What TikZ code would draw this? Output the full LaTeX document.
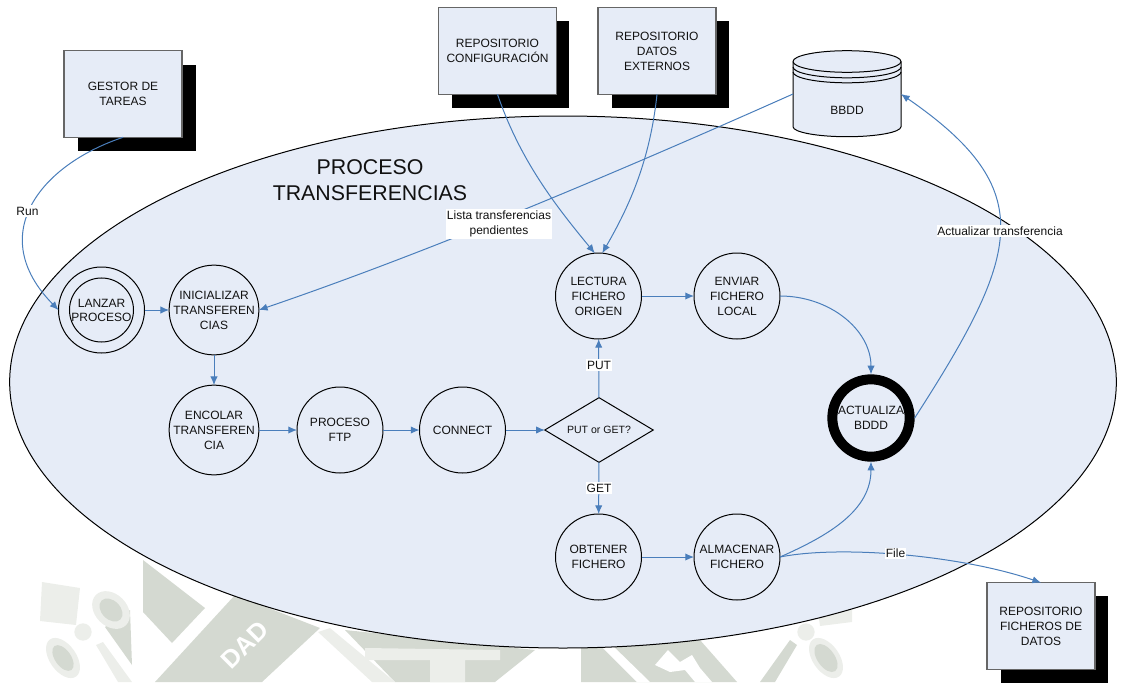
\documentclass[tikz,border=0pt]{standalone}
\usepackage{fontspec}
\setmainfont{Liberation Sans}
\usetikzlibrary{arrows.meta,shapes.geometric}
\definecolor{fillb}{HTML}{E6ECF7}
\definecolor{edgeb}{HTML}{4A7EBB}
\definecolor{boxgray}{HTML}{666666}
\definecolor{wmd}{HTML}{D4D9D1}
\definecolor{wml}{HTML}{ECEEEA}
\definecolor{txt}{HTML}{111111}
\tikzset{
  x=0.75pt,y=-0.75pt,
  base/.style={font=\fontsize{9}{11.25}\selectfont,align=center,text=txt,inner sep=0pt,outer sep=0pt},
  stateb/.style={base,circle,draw=black,line width=0.75pt,minimum size=64.5pt},
  boxb/.style={base,rectangle,draw=boxgray,fill=fillb,line width=0.9pt,minimum width=88.5pt,minimum height=65pt},
  shadowb/.style={fill=black,draw=none},
  flow/.style={draw=edgeb,line width=0.75pt,-{Latex[length=6.5pt,width=5.5pt]}},
  lab/.style={base,fill=white,inner xsep=0.5pt,inner ysep=1pt},
}
\begin{document}
\begin{tikzpicture}
\useasboundingbox (0,0) rectangle (1121,682);
% watermark
\fill[wml] (42,582) -- (80,588) -- (76,625) -- (40,621) -- cycle;
\fill[wmd] (143,560) -- (205,608) -- (172,643) -- (143,612) -- cycle;
\fill[wmd] (130,610) -- (132,665) -- (105,627) -- cycle;
\fill[wml] (83,632) circle [radius=6.5pt];
\fill[wml,rotate around={-45:(111,610)}] (111,610) ellipse [x radius=16pt,y radius=12pt];
\fill[wmd,rotate around={-45:(111,610)}] (111,610) ellipse [x radius=10pt,y radius=7pt];
\fill[wml,rotate around={-55:(63,658)}] (63,658) ellipse [x radius=17pt,y radius=10pt];
\fill[wmd,rotate around={-55:(63,658)}] (63,658) ellipse [x radius=11pt,y radius=6pt];
\fill[wml] (96,645) -- (103,642) -- (132,682) -- (118,682) -- cycle;
\fill[wmd] (155,682) -- (235,595) -- (320,628) -- (262,682) -- cycle;
\node[rotate=45,font=\bfseries\fontsize{19}{19}\selectfont,text=white] (wmt) at (245,645) {DAD};
\fill[wmd] (345,630) -- (535,650) -- (495,682) -- (395,682) -- cycle;
\fill[wml] (318,632) -- (330,628) -- (395,682) -- (372,682) -- cycle;
\fill[wml] (365,648) -- (500,650) -- (500,660) -- (465,660) -- (465,682) -- (430,682) -- (430,660) -- (365,660) -- cycle;
\fill[wmd] (581,645) -- (700,640) -- (737,682) -- (581,682) -- cycle;
\fill[white] (600,645) -- (612,645) -- (650,682) -- (637,682) -- cycle;
\fill[white] (655,665) -- (668,650) -- (680,662) -- (692,655) -- (700,668) -- (712,682) -- (695,682) -- (685,670) -- (670,672) -- cycle;
\fill[wmd] (760,682) -- (790,640) -- (797,645) -- (775,682) -- cycle;
\fill[wml] (818,612) -- (852,608) -- (852,622) -- (820,626) -- cycle;
\fill[wml] (806,632) circle [radius=6.5pt];
\fill[wml,rotate around={-55:(826,658)}] (826,658) ellipse [x radius=17pt,y radius=10pt];
\fill[wmd,rotate around={-55:(826,658)}] (826,658) ellipse [x radius=12pt,y radius=6.5pt];

% process ellipse
\node[ellipse,draw=black,fill=fillb,line width=0.75pt,minimum width=830pt,minimum height=399pt,inner sep=0pt,outer sep=0pt] (proc) at (563,382) {};
\node[base,font=\fontsize{16}{19}\selectfont] (title) at (370,180) {PROCESO\\TRANSFERENCIAS};

% boxes with shadows
\fill[shadowb] (77.5,64.5) rectangle (195.5,150.5);
\node[boxb] (gestor) at (123,94) {GESTOR DE\\TAREAS};
\fill[shadowb] (452,21) rectangle (569,107.5);
\node[boxb] (repconf) at (497.5,51) {REPOSITORIO\\CONFIGURACIÓN};
\fill[shadowb] (612,21) rectangle (729,107.5);
\node[boxb] (repdat) at (657,51) {REPOSITORIO\\DATOS\\EXTERNOS};
\fill[shadowb] (1000.5,596) rectangle (1108,683);
\node[boxb,minimum width=81pt] (repfic) at (1041,626) {REPOSITORIO\\FICHEROS DE\\DATOS};

% database
\filldraw[fill=fillb,draw=black,line width=0.75pt] (793,61.5) -- (793,126.7) arc[start angle=180,end angle=360,x radius=40.5pt,y radius=7.5pt] -- (901,61.5) arc[start angle=0,end angle=180,x radius=40.5pt,y radius=8.1pt] -- cycle;
\draw[line width=0.75pt] (793,61.5) arc[start angle=180,end angle=360,x radius=40.5pt,y radius=8.1pt];
\draw[line width=0.75pt] (793,67) arc[start angle=180,end angle=360,x radius=40.5pt,y radius=8.1pt];
\draw[line width=0.75pt] (793,72) arc[start angle=180,end angle=360,x radius=40.5pt,y radius=8.1pt];
\node[base,minimum width=81pt,minimum height=64.5pt] (bbdd) at (847,94) {};
\node[base] (bbddt) at (847,110) {BBDD};

% states
\node[stateb] (lanzar) at (101.5,310) {};
\node[stateb,minimum size=45pt,font=\fontsize{9}{10.5}\selectfont] (lanzari) at (101.5,310) {LANZAR\\PROCESO};
\node[stateb] (ini) at (214,310) {INICIALIZAR\\TRANSFEREN\\CIAS};
\node[stateb] (enc) at (214,430) {ENCOLAR\\TRANSFEREN\\CIA};
\node[stateb] (ftp) at (340,430) {PROCESO\\FTP};
\node[stateb] (con) at (462.5,430) {CONNECT};
\node[base,diamond,draw=black,line width=0.75pt,aspect=1.675,minimum width=81.3pt,minimum height=48.5pt,font=\fontsize{7.9}{9}\selectfont] (dec) at (599,430) {PUT or GET?};
\node[stateb] (lec) at (598.5,296) {LECTURA\\FICHERO\\ORIGEN};
\node[stateb] (env) at (737,296) {ENVIAR\\FICHERO\\LOCAL};
\node[stateb] (obt) at (598.5,557) {OBTENER\\FICHERO};
\node[stateb] (alm) at (737,557) {ALMACENAR\\FICHERO};
\node[stateb,line width=7.5pt,minimum size=58pt,outer sep=3.75pt] (act) at (871,418) {ACTUALIZA\\BDDD};

% connectors
\draw[flow] (gestor.south) .. controls (40,165) and (-15,235) .. (lanzar.west);
\draw[flow] (bbdd.west) .. controls (600,180) and (420,255) .. (ini.east);
\draw[flow] (repconf.south) .. controls (520,160) and (555,205) .. (lec.95);
\draw[flow] (repdat.south) .. controls (650,160) and (630,205) .. (lec.85);
\draw[flow] (lanzar) -- (ini);
\draw[flow] (ini) -- (enc);
\draw[flow] (enc) -- (ftp);
\draw[flow] (ftp) -- (con);
\draw[flow] (con) -- (dec);
\draw[flow] (dec) -- (lec);
\draw[flow] (dec) -- (obt);
\draw[flow] (lec) -- (env);
\draw[flow] (obt) -- (alm);
\draw[flow] (env.east) .. controls (830,296) and (871,330) .. (act.north);
\draw[flow] (alm.east) .. controls (830,535) and (871,510) .. (act.south);
\draw[flow] (alm.east) .. controls (840,545) and (960,555) .. (repfic.north);
\draw[flow] (act.east) .. controls (1021,253) and (1040,190) .. (bbdd.east);

% labels
\node[lab] (lrun) at (27.5,211) {Run};
\node[lab,inner ysep=1.5pt] (llista) at (499,224) {Lista transferencias\\pendientes};
\node[lab] (lact) at (1000,231) {Actualizar transferencia};
\node[lab] (lput) at (599,365) {PUT};
\node[lab] (lget) at (599,488) {GET};
\node[lab] (lfile) at (895.5,553.5) {File};
\end{tikzpicture}
\end{document}
